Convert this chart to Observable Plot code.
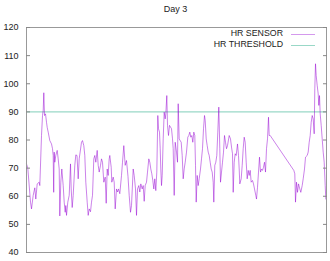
<!DOCTYPE html>
<html><head><meta charset="utf-8">
<script src="https://cdn.jsdelivr.net/npm/d3@7"></script>
<script src="https://cdn.jsdelivr.net/npm/@observablehq/plot@0.6"></script>
<style>
body{margin:0;background:#fff;}
#wrap{position:relative;width:330px;height:261px;font-family:"Liberation Sans",Arial,sans-serif;color:#222;}
#title{position:absolute;left:0;width:351px;top:4px;text-align:center;font-size:9px;line-height:11px;}
.lg{position:absolute;right:47px;font-size:8.8px;line-height:11px;white-space:nowrap;}
.sw{position:absolute;left:291px;width:24px;height:0;}
#chart{position:absolute;left:0;top:0;}
</style></head>
<body>
<div id="wrap">
  <div id="chart"></div>
  <div id="title"></div>
  <div id="legend"></div>
</div>
<script>
const title = "Day 3";
const seriesNames = ["HR SENSOR", "HR THRESHOLD"];
const seriesColors = ["#9400d3", "#009e73"];
const threshold = 90;
const yTicks = [40, 50, 60, 70, 80, 90, 100, 110, 120];
const t = [0,1.3,4,5,6.7,8.3,9.3,10.7,12.7,13.3,15,16,16.7,17.3,18,19,20,20.7,21.7,23.3,25,26,26.7,27.2,27.7,28.3,29.3,30.7,31.7,32.7,33.3,34.3,35.3,36.7,37.7,38.7,39.3,40,41.3,42.7,44,44.7,45.7,46.7,48.3,49.3,50.5,51.7,52.7,55,56,57.3,58.3,59.3,60.7,61.7,62.7,64,65,66,67.3,68.3,69.3,70.7,71.7,72.7,74,75,76,77.3,78.7,79.7,80.7,81.7,82.7,83.3,84.7,85.3,86.7,87.7,88.7,90,91,92,93.3,95,96,97.3,98.7,100,101.5,102.7,104,105,106.7,107.7,109,110,111,112.3,113.3,114.3,115.7,116.7,117.7,118.7,120,121,122.3,123.3,124.3,125.3,126.3,127.3,128.3,129.3,130.3,131.3,132,133,133.7,134.3,135,135.7,136.7,137.7,138.7,139.3,140.3,141,142,143,144,145,146,146.7,147.7,148.7,150,151,151.7,152.7,153.7,154.7,155.7,156.7,157.7,158.7,160,161.3,162.3,163.3,164.3,165.3,166.3,167.3,168.3,169,169.7,170.7,171.7,172.7,174,175,176,177,178,178.7,179.7,180.7,181.7,182.7,183.7,184.7,185.7,186.7,187.3,188.3,189.3,190.3,191.3,192.3,193.3,194,195,196,197,198,199,200,201,202.7,204,205,206,206.7,207.7,208.7,209.7,211,212,212.7,213.3,214.7,215.7,216.7,217.7,218.7,219.7,220.7,221.7,222.7,223.7,224.7,226,227,228,229.3,230,231,232,233,234,235,236,237,238,239,240,241,242,242.7,243.7,267.3,268.3,269,270,271,272,273.3,274.3,275.7,276.7,278,279,280.7,281.7,282.7,283.7,284.7,285.7,286.7,287.7,288.3,289,289.7,290.7,291.7,292.3,293,293.7,294.7,295.7,296.7,297.7,298.7,299.3];
const hr = [71.5,70,57.9,55.5,60.3,63,59,64.4,65,63.8,81.6,88.7,90.5,96.8,88.7,89.3,86.3,84.5,82.8,79.8,78.6,76.9,74.5,61.4,75.7,72.1,74.5,76.3,73.3,69.7,53,65,69.7,63.8,57.9,54.3,56.7,53.2,57.9,60.3,71.5,62.6,56,60.3,71,74.7,74.5,66.2,73.3,79.2,79.8,78,74.5,65,57.9,53.2,55.5,54.5,57.9,60.3,73.3,74.5,72.1,76.3,71,68.6,71,73.3,72.1,65,66.8,57.5,69.7,67.4,73.3,74.5,70.3,65,66.8,65,55.5,62.6,61.5,62.6,60.9,67.4,72.1,78,71,72.7,67,60.3,54.3,56.7,69.7,67.4,62.6,53.2,62.6,63.8,61.5,64.4,62.6,63.8,58.2,63.8,65,68.6,73.3,72.1,69.7,68,65.6,62.6,66.2,62,68.6,88.7,84,82.8,76.9,69.7,63.8,67.4,80.4,89.9,87.5,89.3,95.8,85.2,81.6,85.2,84.6,84,80.4,76.9,60.3,79.2,75.7,72.1,92.9,80.4,79.8,79.2,74.5,66.2,69.7,72.1,75.7,81,81.6,82.8,81,81.6,79.2,82.8,81.6,71,57.9,67.4,63.8,66.2,69.7,73.3,76.9,84,88.7,87,80.4,78,75.7,74.5,72.1,69.7,68.6,65,57.9,71,72.1,74.5,82.8,91.7,76.9,65,68.6,72.1,75.7,81.6,79.2,76.9,78,81.6,80.4,77.5,75.1,61.4,72.1,75.1,74.5,78.6,74.5,69.7,64.4,66.2,71,76.9,81,79.2,72.1,66.2,69.2,67.4,69.2,65,65.6,64.4,62.6,60.3,59,63.2,68.6,73.9,68.6,69.7,69.2,70.3,72.1,68.6,76.9,80.4,88.1,81.6,81.6,69.2,68,57.9,65,61.4,64.4,62.6,61.4,63.8,66.2,69.7,73.9,74.5,75.7,79.2,81.6,86.3,88.7,87.5,82.2,98.2,107.1,102.9,99.4,96.4,92.3,95.8,89.3,85.2,80.4,75.7,72.1,63.8,59];

const data = t.map((d, i) => ({t: d, hr: hr[i]}));

const chart = Plot.plot({
  width: 330, height: 261,
  marginTop: 27, marginBottom: 9, marginLeft: 26, marginRight: 4,
  x: {domain: [0, 300], axis: null},
  y: {domain: [40, 120], label: null, axis: null},
  style: {fontFamily: "'Liberation Sans', Arial, sans-serif", fontSize: "9px", color: "#222", background: "#fff"},
  marks: [
    Plot.ruleY([threshold], {stroke: seriesColors[1], strokeOpacity: 0.4, strokeWidth: 1.3}),
    Plot.line(data, {x: "t", y: "hr", stroke: seriesColors[0], strokeOpacity: 0.55, strokeWidth: 0.9}),
    Plot.frame({stroke: "#999"}),
    Plot.axisY(yTicks, {anchor: "left", tickSize: -4, tickPadding: 12, stroke: "#888", label: null, fill: "#222"}),
    Plot.axisY(yTicks, {anchor: "right", tickSize: -4, tickFormat: () => "", stroke: "#888", label: null})
  ]
});
document.getElementById("chart").appendChild(chart);
document.getElementById("title").textContent = title;

const legend = document.getElementById("legend");
const tops = [28, 39];
seriesNames.forEach((name, i) => {
  const l = document.createElement("div");
  l.className = "lg";
  l.style.top = tops[i] + "px";
  l.textContent = name;
  legend.appendChild(l);
  const s = document.createElement("div");
  s.className = "sw";
  s.style.top = (tops[i] + 6) + "px";
  s.style.borderTop = (i === 0 ? "1.5px" : "1.3px") + " solid " + seriesColors[i];
  s.style.opacity = i === 0 ? 0.4 : 0.4;
  legend.appendChild(s);
});
</script>
</body></html>
